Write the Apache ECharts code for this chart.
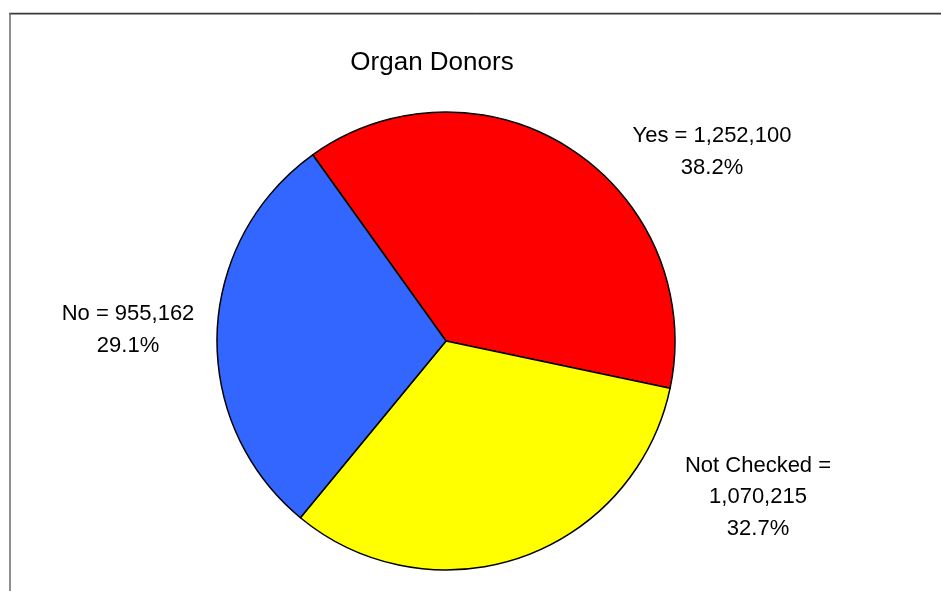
<!DOCTYPE html>
<html>
<head>
<meta charset="utf-8">
<script src="https://cdn.jsdelivr.net/npm/echarts@6/dist/echarts.min.js"></script>
<style>
html,body{margin:0;padding:0;background:#fff;}
#chart{width:941px;height:591px;}
</style>
</head>
<body>
<div id="chart"></div>
<script>
const categories = ['Yes', 'Not Checked', 'No'];
const values = [1252100, 1070215, 955162];
const colors = ['#FF0000', '#FFFF00', '#3366FF'];
const titleText = 'Organ Donors';

// label placement (style only)
const labelPos = [
  {x: 712, y: 152},
  {x: 758, y: 497},
  {x: 128, y: 330}
];

const chart = echarts.init(document.getElementById('chart'), null, {renderer: 'canvas'});
const fontFamily = '"Liberation Sans", Arial, Helvetica, sans-serif';

chart.setOption({
  animation: false,
  backgroundColor: '#ffffff',
  title: {
    text: titleText,
    left: 427,
    top: 45,
    textAlign: 'center',
    textStyle: {fontFamily: fontFamily, fontSize: 26, fontWeight: 'normal', color: '#000'}
  },
  graphic: [
    {type: 'line', shape: {x1: 10, y1: 14.5, x2: 941, y2: 14.5}, style: {stroke: '#bbbbbb', lineWidth: 1}},
    {type: 'line', shape: {x1: 9, y1: 13.5, x2: 941, y2: 13.5}, style: {stroke: '#3a3a3a', lineWidth: 1.5}},
    {type: 'line', shape: {x1: 10, y1: 13, x2: 10, y2: 591}, style: {stroke: '#6a6a6a', lineWidth: 1.5}}
  ],
  series: [{
    type: 'pie',
    center: [446, 341],
    radius: 229,
    startAngle: 125.6,
    clockwise: true,
    data: categories.map((c, i) => ({name: c, value: values[i], itemStyle: {color: colors[i]}})),
    itemStyle: {borderColor: '#000', borderWidth: 1.5},
    emphasis: {disabled: true},
    labelLine: {show: false},
    label: {
      show: true,
      position: 'outside',
      fontFamily: fontFamily,
      fontSize: 22,
      lineHeight: 31.5,
      color: '#000',
      align: 'center',
      formatter: function (p) {
        const sep = p.name.length > 6 ? '\n' : ' ';
        return p.name + ' =' + sep + p.value.toLocaleString('en-US') + '\n' + p.percent.toFixed(1) + '%';
      }
    },
    labelLayout: function (params) {
      const pos = labelPos[params.dataIndex];
      return {x: pos.x, y: pos.y, align: 'center', verticalAlign: 'middle'};
    }
  }]
});
</script>
</body>
</html>
